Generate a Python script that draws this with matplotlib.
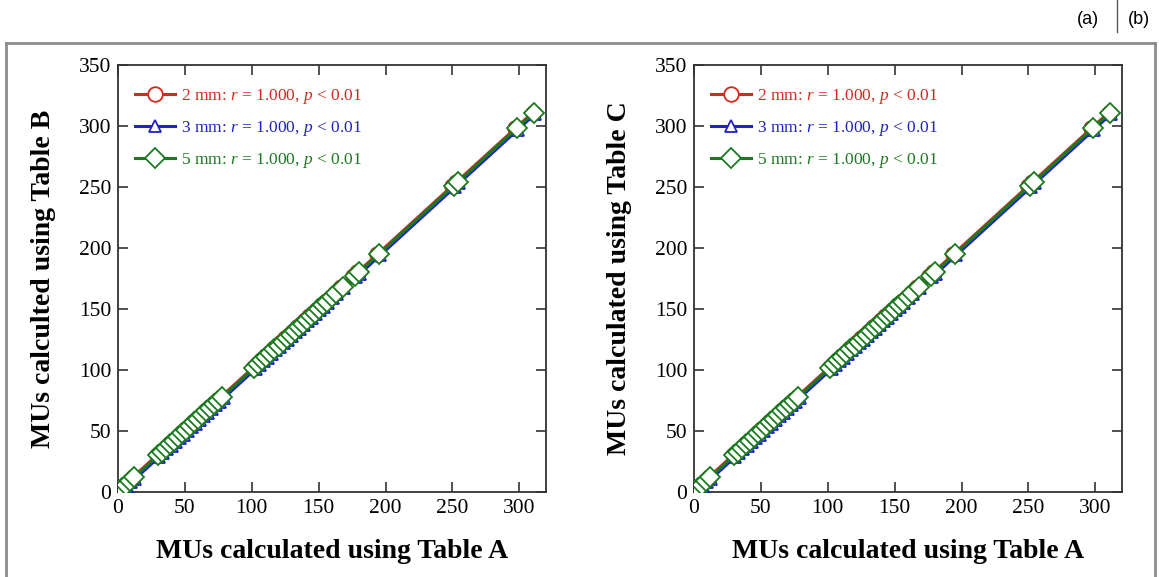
import matplotlib
matplotlib.use('Agg')
import matplotlib.pyplot as plt
from matplotlib.lines import Line2D

# MUs from Table A (x) and Table B / Table C (y), per grid size
mu_a_2mm = [2, 5, 8, 11, 29, 32, 35, 38, 41, 44, 47, 50, 53, 56, 59, 62, 65, 68, 71, 74, 77,
            101, 104, 107, 110, 113, 116, 119, 122, 125, 128, 131, 134, 137, 140, 143, 146,
            149, 152, 155, 159, 162, 167, 176, 179, 194, 250, 253, 297, 310]
mu_b_2mm = [3, 6, 9, 12, 30, 33, 36, 39, 42, 45, 48, 51, 54, 57, 60, 63, 66, 69, 72, 75, 78,
            102, 105, 108, 111, 114, 117, 120, 123, 126, 129, 132, 135, 138, 141, 144, 147,
            150, 153, 156, 160, 163, 168, 177, 180, 195, 251, 254, 298, 311]

mu_a_3mm = [4, 7, 10, 13, 31, 34, 37, 40, 43, 46, 49, 52, 55, 58, 61, 64, 67, 70, 73, 76, 79,
            103, 106, 109, 112, 115, 118, 121, 124, 127, 130, 133, 136, 139, 142, 145, 148,
            151, 154, 157, 161, 164, 169, 178, 181, 196, 252, 255, 299, 312]
mu_b_3mm = [2, 5, 8, 11, 29, 32, 35, 38, 41, 44, 47, 50, 53, 56, 59, 62, 65, 68, 71, 74, 77,
            101, 104, 107, 110, 113, 116, 119, 122, 125, 128, 131, 134, 137, 140, 143, 146,
            149, 152, 155, 159, 162, 167, 176, 179, 194, 250, 253, 297, 310]

mu_a_5mm = [3, 6, 9, 12, 30, 33, 36, 39, 42, 45, 48, 51, 54, 57, 60, 63, 66, 69, 72, 75, 78,
            102, 105, 108, 111, 114, 117, 120, 123, 126, 129, 132, 135, 138, 141, 144, 147,
            150, 153, 156, 160, 163, 168, 177, 180, 195, 251, 254, 298, 311]
mu_b_5mm = [3, 6, 9, 12, 30, 33, 36, 39, 42, 45, 48, 51, 54, 57, 60, 63, 66, 69, 72, 75, 78,
            102, 105, 108, 111, 114, 117, 120, 123, 126, 129, 132, 135, 138, 141, 144, 147,
            150, 153, 156, 160, 163, 168, 177, 180, 195, 251, 254, 298, 311]

# Table C agrees with Table B within the resolution of the picture
mu_c_2mm = list(mu_b_2mm)
mu_c_3mm = list(mu_b_3mm)
mu_c_5mm = list(mu_b_5mm)

grid_labels = ["2 mm", "3 mm", "5 mm"]
r_values = ["1.000", "1.000", "1.000"]
p_text = "0.01"
ticks = [0, 50, 100, 150, 200, 250, 300]

COLORS = ["#d42a1e", "#1f22c4", "#1b7a1f"]
MARKERS = ["o", "^", "D"]
MSIZES = [10.5, 8.5, 10]

plt.rcParams['font.family'] = ['Liberation Serif', 'DejaVu Serif']
plt.rcParams['mathtext.fontset'] = 'custom'
plt.rcParams['mathtext.rm'] = 'Liberation Serif'
plt.rcParams['mathtext.it'] = 'Liberation Serif:italic'

fig = plt.figure(figsize=(11.59, 5.77), dpi=100)
W, H = 1159, 577


def add_axes(left_px):
    return fig.add_axes([left_px / W, (H - 492) / H, 428 / W, 427 / H])


ax_left = add_axes(118)
ax_right = add_axes(694)

panels = [
    (ax_left, [mu_b_2mm, mu_b_3mm, mu_b_5mm], "MUs calculted using Table B"),
    (ax_right, [mu_c_2mm, mu_c_3mm, mu_c_5mm], "MUs calculated using Table C"),
]
xs_all = [mu_a_2mm, mu_a_3mm, mu_a_5mm]

for ax, ys_all, ylabel in panels:
    handles = []
    for i in range(3):
        line, = ax.plot(xs_all[i], ys_all[i], color=COLORS[i], lw=2.2,
                        marker=MARKERS[i], ms=MSIZES[i], mfc="white",
                        mec=COLORS[i], mew=1.3, zorder=3 + i)
        handles.append(line)
    labels = [f"{g}: $r$ = {r}, $p$ < {p_text}" for g, r in zip(grid_labels, r_values)]
    leg = ax.legend(handles, labels, loc="upper left", frameon=False, fontsize=12.5,
                    handlelength=2.3, handletextpad=0.35, labelspacing=0.75,
                    borderaxespad=0.5, bbox_to_anchor=(0.003, 0.985))
    for txt, c in zip(leg.get_texts(), COLORS):
        txt.set_color(c)

    ax.set_xlim(0, 320)
    ax.set_ylim(0, 350)
    ax.set_xticks(ticks)
    ax.set_yticks(ticks + [350])
    ax.tick_params(direction="in", top=True, right=True, length=7, width=1.2,
                   labelsize=15.5, color="#333333", pad=5)
    for sp in ax.spines.values():
        sp.set_linewidth(1.3)
        sp.set_color("#333333")
    ax.set_xlabel("MUs calculated using Table A", fontsize=20, fontweight="bold", labelpad=15)
    ax.set_ylabel(ylabel, fontsize=20, fontweight="bold", labelpad=16)

# outer frame (open at the bottom)
frame_color = "#8c8c8c"
x0, x1, ytop = 6 / W, 1155 / W, (H - 43) / H
fig.add_artist(Line2D([x0, x0], [0, ytop], transform=fig.transFigure, color=frame_color, lw=2))
fig.add_artist(Line2D([x0, x1], [ytop, ytop], transform=fig.transFigure, color=frame_color, lw=2))
fig.add_artist(Line2D([x1, x1], [0, ytop], transform=fig.transFigure, color=frame_color, lw=2))

# panel tags
fig.text(1088 / W, 1 - 20 / H, "(a)", ha="center", va="center", fontsize=13,
         family=["Liberation Sans", "DejaVu Sans"])
fig.text(1139 / W, 1 - 20 / H, "(b)", ha="center", va="center", fontsize=13,
         family=["Liberation Sans", "DejaVu Sans"])
fig.add_artist(Line2D([1117 / W, 1117 / W], [1 - 32 / H, 1.0], transform=fig.transFigure,
                      color="#555555", lw=1))

fig.savefig("out.png", dpi=100)
